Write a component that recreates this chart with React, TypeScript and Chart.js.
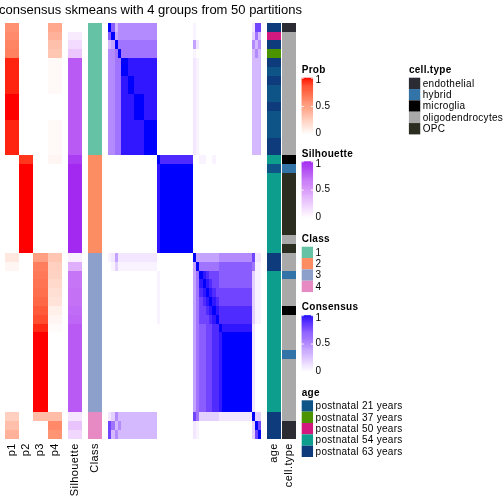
import { useEffect, useRef } from "react";
import { Chart, registerables } from "chart.js";
Chart.register(...registerables);

const TITLE = "consensus skmeans with 4 groups from 50 partitions";

// per-sample annotations (47 samples, top to bottom)
const p1 = [0.57,0.59,0.62,0.64, 0.96,0.96,0.96,0.96, 1,1,1, 0.96,0.96,0.96,0.96, 0, 0,0,0,0,0,0,0,0,0,0, 0.12,0.05, 0,0,0,0,0,0, 0,0,0,0,0,0,0,0,0,0, 0.25,0.33,0.4];
const p2 = [0,0,0,0, 0,0,0,0, 0,0,0, 0,0,0,0, 0.92, 1,1,1,1,1,1,1,1,1,1, 0,0, 0,0,0,0,0,0, 0,0,0,0,0,0,0,0,0,0, 0,0,0];
const p3 = [0,0,0,0, 0,0,0,0, 0,0,0, 0,0,0,0, 0, 0,0,0,0,0,0,0,0,0,0, 0.5,0.65, 0.68,0.7,0.72,0.75,0.8,0.85, 0.95,1,1,1,1,1,1,1,1,1, 0.35,0,0];
const p4 = [0.45,0.4,0.33,0.3, 0.03,0.03,0.03,0.03, 0,0,0, 0.03,0.03,0.03,0.03, 0.05, 0,0,0,0,0,0,0,0,0,0, 0.3,0.25, 0.23,0.2,0.17,0.15,0.08,0.05, 0.02,0,0,0,0,0,0,0,0,0, 0.35,0.6,0.55];
const silhouette = [0,0.1,0.18,0.28, 0.8,0.8,0.8,0.8, 0.8,0.8,0.8, 0.8,0.8,0.8,0.8, 0.92, 0.98,0.98,0.98,0.98,0.98,0.98,0.98,0.98,0.98,0.98, 0.08,0.4, 0.68,0.68,0.7,0.7,0.72,0.75, 0.8,0.8,0.8,0.8,0.8,0.8,0.8,0.8,0.8,0.8, 0.13,0.3,0.2];
const classOf = [1,1,1,1,1,1,1,1,1,1,1,1,1,1,1, 2,2,2,2,2,2,2,2,2,2,2, 3,3,3,3,3,3,3,3,3,3,3,3,3,3,3,3,3,3, 4,4,4];

const classLevels = ["1", "2", "3", "4"];
const classColors = ["#66C2A5", "#FC8D62", "#8DA0CB", "#E78AC3"];

const ageLevels = ["postnatal 21 years", "postnatal 37 years", "postnatal 50 years", "postnatal 54 years", "postnatal 63 years"];
const ageColors = ["#0E5487", "#4B9400", "#D1197F", "#0E9E8E", "#0D3B7B"];
const ageOf = [4,2,4,1,4,0,4,0,0,4,0,0,0,4,4, 3,0,3,3,3,3,3,3,3,3,3, 4,4, 3,3,3,3,3,3, 3,3,3,3,3,3,3,3,3,3, 4,4,4];

const cellLevels = ["endothelial", "hybrid", "microglia", "oligodendrocytes", "OPC"];
const cellColors = ["#2B2B33", "#3274A8", "#000000", "#A9A9A9", "#2B2D20"];
const cellOf = [0,3,3,3,3,3,3,3,3,3,3,3,3,3,3, 2,1,4,4,4,4,4,4,4,3,4, 3,3, 1,3,3,3,2,3, 3,3,3,1,3,3,3,3,3,3, 3,0,0];

// consensus matrix rows; one char per column: 0-9 = tenths, h = 0.05, W = 0.96, X = 1 (spaces only separate groups)
const consensus = [
  "X735 55 55 555 5555 00000000000 h0 000000 0000000000 188",
  "7X45 55 55 555 5555 00000000000 h0 000000 0000000000 263",
  "34X6 66 66 666 6666 00000000000 41 000000 0000000000 535",
  "556X 66 66 666 6666 00000000000 h0 000000 0000000000 353",
  "5566 XX WW WWW WWWW 00000000000 1h 000000 0000000000 333",
  "5566 XX WW WWW WWWW 00000000000 1h 000000 0000000000 333",
  "5566 WW XX WWW WWWW 00000000000 1h 000000 0000000000 333",
  "5566 WW XX WWW WWWW 00000000000 1h 000000 0000000000 333",
  "5566 WW WW XXX WWWW 00000000000 1h 000000 0000000000 333",
  "5566 WW WW XXX WWWW 00000000000 1h 000000 0000000000 333",
  "5566 WW WW XXX WWWW 00000000000 1h 000000 0000000000 333",
  "5566 WW WW WWW XXXX 00000000000 1h 000000 0000000000 333",
  "5566 WW WW WWW XXXX 00000000000 1h 000000 0000000000 333",
  "5566 WW WW WWW XXXX 00000000000 1h 000000 0000000000 333",
  "5566 WW WW WWW XXXX 00000000000 1h 000000 0000000000 333",
  "0000 00 00 000 0000 X9999999999 00 hh00h0 0000000000 000",
  "0000 00 00 000 0000 WXXXXXXXXXX 00 000000 0000000000 000",
  "0000 00 00 000 0000 WXXXXXXXXXX 00 000000 0000000000 000",
  "0000 00 00 000 0000 WXXXXXXXXXX 00 000000 0000000000 000",
  "0000 00 00 000 0000 WXXXXXXXXXX 00 000000 0000000000 000",
  "0000 00 00 000 0000 WXXXXXXXXXX 00 000000 0000000000 000",
  "0000 00 00 000 0000 WXXXXXXXXXX 00 000000 0000000000 000",
  "0000 00 00 000 0000 WXXXXXXXXXX 00 000000 0000000000 000",
  "0000 00 00 000 0000 WXXXXXXXXXX 00 000000 0000000000 000",
  "0000 00 00 000 0000 WXXXXXXXXXX 00 000000 0000000000 000",
  "0000 00 00 000 0000 WXXXXXXXXXX 00 000000 0000000000 000",
  "h141 11 11 111 1111 00000000000 X4 444444 5555555555 811",
  "0h2h hh hh hhh hhhh 00000000000 4X 666666 7777777777 6hh",
  "0000 00 00 000 0000 h0000000000 46 XW9888 7777777777 2hh",
  "0000 00 00 000 0000 h0000000000 46 WXW988 7777777777 2hh",
  "0000 00 00 000 0000 h0000000000 46 9WXW98 8888888888 2hh",
  "0000 00 00 000 0000 h0000000000 46 89WXW9 8888888888 2hh",
  "0000 00 00 000 0000 h0000000000 46 889WXW 9999999999 2hh",
  "0000 00 00 000 0000 h0000000000 46 8889WX 9999999999 2hh",
  "0000 00 00 000 0000 00000000000 46 778899 XWWWWWWWWW 100",
  "0000 00 00 000 0000 00000000000 46 778899 WXXXXXXXXX 100",
  "0000 00 00 000 0000 00000000000 46 778899 WXXXXXXXXX 100",
  "0000 00 00 000 0000 00000000000 46 778899 WXXXXXXXXX 100",
  "0000 00 00 000 0000 00000000000 46 778899 WXXXXXXXXX 100",
  "0000 00 00 000 0000 00000000000 46 778899 WXXXXXXXXX 100",
  "0000 00 00 000 0000 00000000000 46 778899 WXXXXXXXXX 100",
  "0000 00 00 000 0000 00000000000 46 778899 WXXXXXXXXX 100",
  "0000 00 00 000 0000 00000000000 46 778899 WXXXXXXXXX 100",
  "0000 00 00 000 0000 00000000000 46 778899 WXXXXXXXXX 100",
  "1253 33 33 333 3333 00000000000 86 222222 1111111111 X22",
  "8635 33 33 333 3333 00000000000 1h 000000 0000000000 2X8",
  "8353 33 33 333 3333 00000000000 1h 000000 0000000000 28X",
];
const LEVEL: Record<string, number> = { "0": 0, "1": 0.1, "2": 0.2, "3": 0.3, "4": 0.4, "5": 0.5, "6": 0.6, "7": 0.7, "8": 0.8, "9": 0.9, h: 0.05, W: 0.96, X: 1 };

const legendTicks = [0, 0.5, 1];

// ---------- colour ramps in LAB space ----------
function hexToRgb(h: string) {
  const n = parseInt(h.slice(1), 16);
  return [(n >> 16) & 255, (n >> 8) & 255, n & 255];
}
function toLin(c: number) { c /= 255; return c <= 0.04045 ? c / 12.92 : Math.pow((c + 0.055) / 1.055, 2.4); }
function toSrgb(c: number) {
  c = Math.min(1, Math.max(0, c));
  const v = c <= 0.0031308 ? 12.92 * c : 1.055 * Math.pow(c, 1 / 2.4) - 0.055;
  return Math.round(v * 255);
}
function rgbToLab(rgb: number[]) {
  const [R, G, B] = rgb.map(toLin);
  const X = (0.4124 * R + 0.3576 * G + 0.1805 * B) / 0.95047;
  const Y = 0.2126 * R + 0.7152 * G + 0.0722 * B;
  const Z = (0.0193 * R + 0.1192 * G + 0.9505 * B) / 1.08883;
  const f = (t: number) => (t > 0.008856 ? Math.cbrt(t) : 7.787 * t + 16 / 116);
  const fx = f(X), fy = f(Y), fz = f(Z);
  return [116 * fy - 16, 500 * (fx - fy), 200 * (fy - fz)];
}
function labToRgb(lab: number[]) {
  const [L, a, b] = lab;
  const fy = (L + 16) / 116, fx = fy + a / 500, fz = fy - b / 200;
  const fi = (t: number) => (t * t * t > 0.008856 ? t * t * t : (t - 16 / 116) / 7.787);
  const X = 0.95047 * fi(fx), Y = fi(fy), Z = 1.08883 * fi(fz);
  const R = 3.2406 * X - 1.5372 * Y - 0.4986 * Z;
  const G = -0.9689 * X + 1.8758 * Y + 0.0415 * Z;
  const B = 0.0557 * X - 0.204 * Y + 1.057 * Z;
  return [toSrgb(R), toSrgb(G), toSrgb(B)];
}
function ramp(c0: string, c1: string) {
  const l0 = rgbToLab(hexToRgb(c0)), l1 = rgbToLab(hexToRgb(c1));
  return (t: number) => {
    t = Math.min(1, Math.max(0, t));
    const [r, g, b] = labToRgb(l0.map((v, i) => v + (l1[i] - v) * t));
    return `rgb(${r},${g},${b})`;
  };
}
const probCol = ramp("#FFFFFF", "#FF0000");
const silCol = ramp("#FFFFFF", "#A020F0");
const consCol = ramp("#FFFFFF", "#0000FF");

// ---------- layout (x in heatmap units = px from left edge of the body) ----------
const COL_W = 14.17;
const X_P = 0;
const X_SIL = 63;
const X_CLASS = 83;
const X_CONS = 103;
const CONS_W = 153.3;
const X_AGE = 262;
const X_CELL = 277;
const X_MAX = 291;
const FONT = '"Liberation Sans", Arial, Helvetica, sans-serif';

const painter = {
  id: "painter",
  afterDraw(chart: any) {
    const ctx: any = chart.ctx;
    const xs = chart.scales.x, ys = chart.scales.y;
    const n = classOf.length;
    const cell = (x0: number, x1: number, r: number, color: string) => {
      const a = Math.round(xs.getPixelForValue(x0)), b = Math.round(xs.getPixelForValue(x1));
      const t = Math.round(ys.getPixelForValue(r)), u = Math.round(ys.getPixelForValue(r + 1));
      ctx.fillStyle = color;
      ctx.fillRect(a, t, b - a, u - t);
    };
    ctx.save();
    const probs = [p1, p2, p3, p4];
    for (let i = 0; i < n; i++) {
      probs.forEach((p, k) => cell(X_P + k * COL_W, X_P + (k + 1) * COL_W, i, probCol(p[i])));
      cell(X_SIL, X_SIL + COL_W, i, silCol(silhouette[i]));
      cell(X_CLASS, X_CLASS + COL_W, i, classColors[classOf[i] - 1]);
      const row = consensus[i].replace(/ /g, "");
      const cw = CONS_W / n;
      for (let j = 0; j < n; j++) cell(X_CONS + j * cw, X_CONS + (j + 1) * cw, i, consCol(LEVEL[row[j]] ?? 0));
      cell(X_AGE, X_AGE + COL_W, i, ageColors[ageOf[i]]);
      cell(X_CELL, X_CELL + COL_W, i, cellColors[cellOf[i]]);
    }

    // title
    ctx.fillStyle = "#000";
    ctx.font = `13px ${FONT}`;
    ctx.textAlign = "center";
    ctx.textBaseline = "alphabetic";
    const cx = (xs.getPixelForValue(0) + xs.getPixelForValue(X_MAX)) / 2;
    ctx.fillText(TITLE, cx, 13.5);

    // column labels (rotated)
    const labels: [string, number][] = [
      ["p1", X_P + 0.5 * COL_W], ["p2", X_P + 1.5 * COL_W], ["p3", X_P + 2.5 * COL_W], ["p4", X_P + 3.5 * COL_W],
      ["Silhouette", X_SIL + COL_W / 2], ["Class", X_CLASS + COL_W / 2], ["age", X_AGE + COL_W / 2], ["cell.type", X_CELL + COL_W / 2],
    ];
    ctx.font = `11px ${FONT}`;
    ctx.letterSpacing = "0.4px";
    const top = chart.chartArea.bottom + 4.5;
    for (const [lab, xv] of labels) {
      ctx.save();
      ctx.translate(xs.getPixelForValue(xv), top);
      ctx.rotate(-Math.PI / 2);
      ctx.textAlign = "right";
      ctx.textBaseline = "middle";
      ctx.fillText(lab, 0, 0);
      ctx.restore();
    }
    ctx.letterSpacing = "0px";

    // legends
    const LX = chart.chartArea.right + 5.7;
    const KEY = 11.34;
    const titleText = (s: string, x: number, y: number) => {
      ctx.font = `bold 10px ${FONT}`;
      ctx.letterSpacing = "0.3px";
      ctx.textAlign = "left";
      ctx.textBaseline = "alphabetic";
      ctx.fillStyle = "#000";
      ctx.fillText(s, x, y);
    };
    const colorBar = (name: string, y0: number, fn: (t: number) => string) => {
      titleText(name, LX, y0 - 4.8);
      const H = KEY * 5;
      const steps = 60;
      for (let s = 0; s < steps; s++) {
        const t = 1 - (s + 0.5) / steps;
        ctx.fillStyle = fn(t);
        ctx.fillRect(LX, y0 + (s * H) / steps, KEY, H / steps + 0.6);
      }
      ctx.font = `10px ${FONT}`;
      ctx.textBaseline = "middle";
      ctx.fillStyle = "#000";
      for (const tk of legendTicks) {
        const y = y0 + H * (1 - tk);
        ctx.strokeStyle = "#fff";
        ctx.lineWidth = 1;
        if (tk > 0) {
          ctx.beginPath();
          ctx.moveTo(LX, y + 0.5); ctx.lineTo(LX + 2, y + 0.5);
          ctx.moveTo(LX + KEY - 2, y + 0.5); ctx.lineTo(LX + KEY, y + 0.5);
          ctx.stroke();
        }
        const ly = Math.min(Math.max(y, y0 + 3), y0 + H - 1);
        ctx.fillText(String(tk), LX + KEY + 2.5, ly);
      }
    };
    const discrete = (name: string, x: number, y0: number, levels: string[], colors: string[]) => {
      titleText(name, x, y0 - 4.8);
      levels.forEach((lv, k) => {
        const y = y0 + k * KEY;
        ctx.fillStyle = colors[k];
        ctx.fillRect(x, y, KEY, KEY);
        ctx.fillStyle = "#000";
        ctx.font = `10px ${FONT}`;
        ctx.textBaseline = "middle";
        ctx.fillText(lv, x + KEY + 2.5, y + KEY / 2 + 0.5);
      });
    };
    colorBar("Prob", 77.7, probCol);
    colorBar("Silhouette", 161.3, silCol);
    discrete("Class", LX, 246.7, classLevels, classColors);
    colorBar("Consensus", 315.2, consCol);
    discrete("age", LX, 400.3, ageLevels, ageColors);
    discrete("cell.type", LX + 107.2, 77.7, cellLevels, cellColors);
    ctx.letterSpacing = "0px";
    ctx.restore();
  },
};

export default function App() {
  const ref = useRef<HTMLCanvasElement>(null);
  useEffect(() => {
    document.body.style.margin = "0";
    const chart = new Chart(ref.current!, {
      type: "scatter",
      data: { datasets: [{ data: [] }] },
      options: {
        animation: false,
        responsive: false,
        devicePixelRatio: 1,
        events: [],
        layout: { padding: { left: 5, top: 22.7, right: 208, bottom: 65.3 } },
        scales: {
          x: { type: "linear", min: 0, max: X_MAX, display: false },
          y: { type: "linear", min: 0, max: classOf.length, reverse: true, display: false },
        },
        plugins: { legend: { display: false }, tooltip: { enabled: false }, title: { display: false } },
      },
      plugins: [painter],
    } as any);
    return () => chart.destroy();
  }, []);
  return (
    <div style={{ width: 504, height: 504, background: "#fff" }}>
      <canvas ref={ref} width={504} height={504} style={{ display: "block" }} />
    </div>
  );
}
